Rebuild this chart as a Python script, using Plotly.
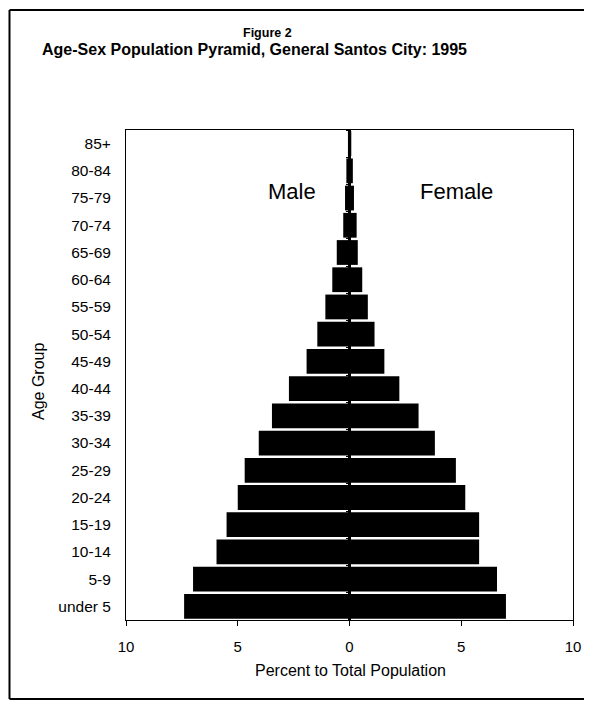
import plotly.graph_objects as go

age_groups = ["under 5", "5-9", "10-14", "15-19", "20-24", "25-29", "30-34", "35-39",
              "40-44", "45-49", "50-54", "55-59", "60-64", "65-69", "70-74", "75-79",
              "80-84", "85+"]
male_pct = [7.4, 7.0, 5.95, 5.5, 5.0, 4.69, 4.06, 3.47, 2.71, 1.92, 1.44, 1.08,
            0.77, 0.57, 0.28, 0.20, 0.14, 0.07]
female_pct = [7.0, 6.6, 5.8, 5.8, 5.18, 4.76, 3.82, 3.09, 2.23, 1.56, 1.12, 0.82,
              0.57, 0.37, 0.32, 0.20, 0.15, 0.08]
x_tick_vals = [-10, -5, 0, 5, 10]
x_tick_text = ["10", "5", "0", "5", "10"]

OFF = 8  # page body margin
W, H = 592 - OFF, 702 - OFF
L, R, T, B = 126 - OFF, 573 - OFF, 130 - OFF, 620 - OFF
FONT = "Liberation Sans, Arial, sans-serif"


def px(x):
    return (x - OFF - L) / (R - L)


def py(y):
    return (B - (y - OFF)) / (B - T)


fig = go.Figure()
fig.add_trace(go.Bar(y=age_groups, x=[-v for v in male_pct], orientation="h",
                     marker=dict(color="black", line=dict(width=0)), name="Male"))
fig.add_trace(go.Bar(y=age_groups, x=female_pct, orientation="h",
                     marker=dict(color="black", line=dict(width=0)), name="Female"))
# category axis running along x = 0 (tick marks only)
fig.add_trace(go.Scatter(y=age_groups, x=[0] * len(age_groups), yaxis="y2",
                         mode="markers", marker=dict(size=0.1, opacity=0),
                         hoverinfo="skip", showlegend=False))

fig.update_layout(
    width=W, height=H,
    margin=dict(l=L, r=W - R, t=T, b=H - B, autoexpand=False),
    barmode="relative", bargap=0.09,
    showlegend=False,
    paper_bgcolor="white", plot_bgcolor="white",
    font=dict(family=FONT, color="black", size=14),
    yaxis2=dict(overlaying="y", anchor="free", position=0.5, type="category",
                categoryorder="array", categoryarray=age_groups,
                range=[-0.5, len(age_groups) - 0.5],
                showticklabels=False, ticks="outside", tickson="boundaries",
                ticklen=4, tickwidth=1, tickcolor="black", showline=False,
                showgrid=False, layer="above traces", fixedrange=True),
)
fig.update_xaxes(
    range=[-10, 10], tickvals=x_tick_vals, ticktext=x_tick_text,
    showline=True, linecolor="black", linewidth=1, mirror=True,
    ticks="outside", ticklen=5, tickcolor="black", ticklabelstandoff=8,
    showgrid=False, zeroline=True, zerolinecolor="black", zerolinewidth=3,
    layer="above traces",
    tickfont=dict(size=15, family=FONT, color="black"), fixedrange=True,
)
fig.layout.yaxis.update(
    type="category", categoryorder="array", categoryarray=age_groups,
    range=[-0.5, len(age_groups) - 0.5],
    showline=True, linecolor="black", linewidth=1, mirror=True,
    ticks="", ticklabelstandoff=11, showgrid=False,
    tickfont=dict(size=15.5, family=FONT, color="black"), fixedrange=True,
)

ann = [
    dict(text="<b>Figure 2</b>", x=px(267), y=py(33), size=12.5),
    dict(text="<b>Age-Sex Population Pyramid, General Santos City: 1995</b>", x=px(254), y=py(49), size=16),
    dict(text="Male", x=px(292), y=py(192), size=22),
    dict(text="Female", x=px(456), y=py(192), size=22),
    dict(text="Percent to Total Population", x=px(350), y=py(670), size=16),
]
for a in ann:
    fig.add_annotation(text=a["text"], x=a["x"], y=a["y"], xref="paper", yref="paper",
                       showarrow=False, xanchor="center", yanchor="middle",
                       font=dict(size=a["size"], family=FONT, color="black"))
fig.add_annotation(text="Age Group", x=px(38), y=py(382), xref="paper", yref="paper",
                   showarrow=False, textangle=-90, xanchor="center", yanchor="middle",
                   font=dict(size=16, family=FONT, color="black"))

# outer frame (top, left, bottom; the right edge lies outside the picture)
frame = dict(color="black", width=2)
fig.add_shape(type="line", xref="paper", yref="paper", x0=px(9.5), x1=px(600),
              y0=py(10), y1=py(10), line=frame)
fig.add_shape(type="line", xref="paper", yref="paper", x0=px(9.5), x1=px(600),
              y0=py(699), y1=py(699), line=frame)
fig.add_shape(type="line", xref="paper", yref="paper", x0=px(9.5), x1=px(9.5),
              y0=py(10), y1=py(699), line=frame)

fig.write_html(
    "out.html",
    post_script="document.documentElement.style.overflow='hidden';"
                "document.body.style.overflow='hidden';",
)
